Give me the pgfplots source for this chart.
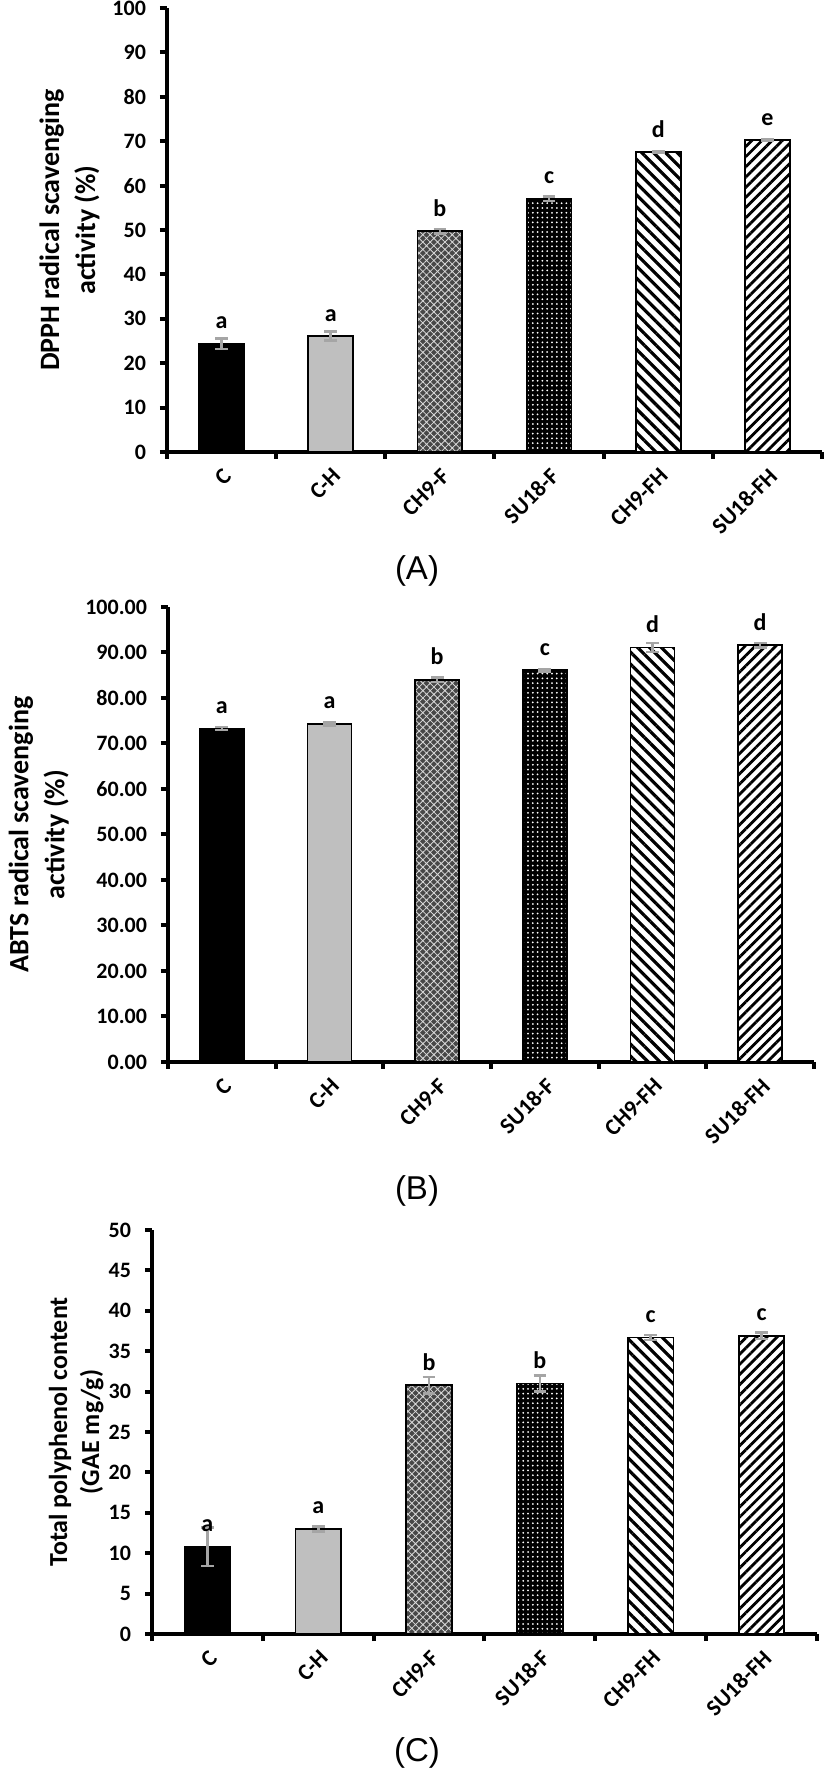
\documentclass[border=0pt]{standalone}
\usepackage{fontspec}
\setmainfont{Carlito}
\newfontfamily\panelfont{Liberation Sans}
\usepackage{pgfplots}
\pgfplotsset{compat=1.18}
\usepackage{pgfplotstable}
\usetikzlibrary{patterns,patterns.meta}

\definecolor{errgray}{RGB}{165,165,165}
\definecolor{lgray}{RGB}{191,191,191}

\pgfplotstableread{
x y e l
0 24.4 1.2 a
1 26.1 1.0 a
2 49.7 0.5 b
3 57.0 0.5 c
4 67.5 0.2 d
5 70.2 0.2 e
}\dataA
\pgfplotstableread{
x y e l
0 73.3 0.3 a
1 74.3 0.3 a
2 84.0 0.5 b
3 86.1 0.3 c
4 91.1 1.0 d
5 91.6 0.5 d
}\dataB
\pgfplotstableread{
x y e l
0 10.8 2.4 a
1 13.0 0.3 a
2 30.8 1.0 b
3 31.0 1.0 b
4 36.7 0.3 c
5 36.9 0.4 c
}\dataC

\pgfplotsset{
  panel/.style={
    scale only axis, clip=false, enlargelimits=false,
    axis x line=bottom, axis y line=left,
    axis line style={-, line width=2pt},
    xmin=-0.5, xmax=5.5, ymin=0,
    ybar, bar width=0.41,
    xtick={-0.5,0.5,1.5,2.5,3.5,4.5,5.5}, xticklabels={},
    extra x ticks={0,1,2,3,4,5},
    extra x tick labels={C,C-H,CH9-F,SU18-F,CH9-FH,SU18-FH},
    extra x tick style={major tick length=0pt},
    tick align=outside, major tick length=3.5pt,
    tick style={line width=2pt, black},
    xticklabel style={font=\bfseries\fontsize{11.5}{13}\selectfont, yshift=-10pt, xshift=3pt, rotate=45, anchor=east, inner sep=0pt},
    yticklabel style={font=\bfseries\fontsize{11}{13}\selectfont, xshift=-3.5pt},
    /pgf/number format/assume math mode=true,
  },
  ylab/.style={every axis y label/.style={at={(axis description cs:#1,0.5)}, rotate=90, anchor=center,
     align=center, font=\bfseries\fontsize{14}{18}\selectfont}},
  b0/.style={restrict x to domain=-0.2:0.2},
  b1/.style={restrict x to domain=0.8:1.2},
  b2/.style={restrict x to domain=1.8:2.2},
  b3/.style={restrict x to domain=2.8:3.2},
  b4/.style={restrict x to domain=3.8:4.2},
  b5/.style={restrict x to domain=4.8:5.2},
  bC/.style={bar shift=0pt, fill=black, draw=black, line width=0.9pt},
  bCH/.style={bar shift=0pt, fill=lgray, draw=black, line width=0.9pt},
  bgGray/.style={bar shift=0pt, fill=black!72, draw=none},
  bgBlack/.style={bar shift=0pt, fill=black, draw=none},
  bgWhite/.style={bar shift=0pt, fill=white, draw=none},
  bCHF/.style={bar shift=0pt, draw=black, line width=0.9pt,
     pattern={Hatch[angle=45, distance=2.6pt, line width=0.4pt]}, pattern color=white!85!black},
  bSUF/.style={bar shift=0pt, draw=black, line width=0.9pt,
     pattern={Dots[distance=2.4pt, radius=0.5pt]}, pattern color=white},
  bCHFH/.style={bar shift=0pt, draw=black, line width=0.9pt,
     pattern={Lines[angle=-45, distance=4.2pt, line width=1.6pt]}, pattern color=black},
  bSUFH/.style={bar shift=0pt, draw=black, line width=0.9pt,
     pattern={Lines[angle=45, distance=3.6pt, line width=1.4pt]}, pattern color=black},
  errs/.style={bar shift=0pt, draw=none, fill=none,
     error bars/.cd, y dir=both, y explicit,
     error bar style={draw=errgray, line width=1.3pt},
     error mark options={rotate=90, mark size=3.2pt, line width=1.3pt, draw=errgray}},
  lets/.style={bar shift=0pt, draw=none, fill=none, nodes near coords, point meta=explicit symbolic,
     every node near coord/.append style={anchor=base, yshift=7.5pt, font=\bfseries\fontsize{12}{14}\selectfont, text=black}},
}

\begin{document}
\begin{tikzpicture}
\useasboundingbox (0,0) rectangle (413.5pt,884pt);

% Panel A
\begin{axis}[panel, ylab=-0.149, at={(83.5pt,658pt)}, anchor=south west,
  width=327.5pt, height=222pt, ymax=100, ytick={0,10,...,100},
  ylabel={DPPH radical scavenging\\activity (\%)}]
\addplot[bC,    b0] table[x=x,y=y] {\dataA};
\addplot[bCH,   b1] table[x=x,y=y] {\dataA};
\addplot[bgGray, b2] table[x=x,y=y] {\dataA};
\addplot[bCHF,  b2] table[x=x,y=y] {\dataA};
\addplot[bgBlack, b3] table[x=x,y=y] {\dataA};
\addplot[bSUF,  b3] table[x=x,y=y] {\dataA};
\addplot[bgWhite, b4] table[x=x,y=y] {\dataA};
\addplot[bCHFH, b4] table[x=x,y=y] {\dataA};
\addplot[bgWhite, b5] table[x=x,y=y] {\dataA};
\addplot[bSUFH, b5] table[x=x,y=y] {\dataA};
\addplot[errs] table[x=x,y=y,y error=e] {\dataA};
\addplot[lets] table[x=x,y=y,meta=l] {\dataA};
\end{axis}
\node[font=\panelfont\fontsize{16.5}{18}\selectfont] at (208.5pt,598.5pt) {(A)};

% Panel B
\begin{axis}[panel, ylab=-0.2, at={(84pt,353pt)}, anchor=south west,
  width=323pt, height=227.5pt, ymax=100, ytick={0,10,...,100},
  yticklabel style={/pgf/number format/.cd, fixed, fixed zerofill, precision=2},
  ylabel={ABTS radical scavenging\\activity (\%)}]
\addplot[bC,    b0] table[x=x,y=y] {\dataB};
\addplot[bCH,   b1] table[x=x,y=y] {\dataB};
\addplot[bgGray, b2] table[x=x,y=y] {\dataB};
\addplot[bCHF,  b2] table[x=x,y=y] {\dataB};
\addplot[bgBlack, b3] table[x=x,y=y] {\dataB};
\addplot[bSUF,  b3] table[x=x,y=y] {\dataB};
\addplot[bgWhite, b4] table[x=x,y=y] {\dataB};
\addplot[bCHFH, b4] table[x=x,y=y] {\dataB};
\addplot[bgWhite, b5] table[x=x,y=y] {\dataB};
\addplot[bSUFH, b5] table[x=x,y=y] {\dataB};
\addplot[errs] table[x=x,y=y,y error=e] {\dataB};
\addplot[lets] table[x=x,y=y,meta=l] {\dataB};
\end{axis}
\node[font=\panelfont\fontsize{16.5}{18}\selectfont] at (208.5pt,288.5pt) {(B)};

% Panel C
\begin{axis}[panel, ylab=-0.114, at={(76pt,67pt)}, anchor=south west,
  width=332.5pt, height=202pt, ymax=50, ytick={0,5,...,50},
  every axis y label/.append style={font=\bfseries\fontsize{13}{16}\selectfont},
  ylabel={Total polyphenol content\\(GAE mg/g)}]
\addplot[bC,    b0] table[x=x,y=y] {\dataC};
\addplot[bCH,   b1] table[x=x,y=y] {\dataC};
\addplot[bgGray, b2] table[x=x,y=y] {\dataC};
\addplot[bCHF,  b2] table[x=x,y=y] {\dataC};
\addplot[bgBlack, b3] table[x=x,y=y] {\dataC};
\addplot[bSUF,  b3] table[x=x,y=y] {\dataC};
\addplot[bgWhite, b4] table[x=x,y=y] {\dataC};
\addplot[bCHFH, b4] table[x=x,y=y] {\dataC};
\addplot[bgWhite, b5] table[x=x,y=y] {\dataC};
\addplot[bSUFH, b5] table[x=x,y=y] {\dataC};
\addplot[errs] table[x=x,y=y,y error=e] {\dataC};
\addplot[lets] table[x=x,y=y,meta=l] {\dataC};
\end{axis}
\node[font=\panelfont\fontsize{16.5}{18}\selectfont] at (208.5pt,7.5pt) {(C)};
\end{tikzpicture}
\end{document}
